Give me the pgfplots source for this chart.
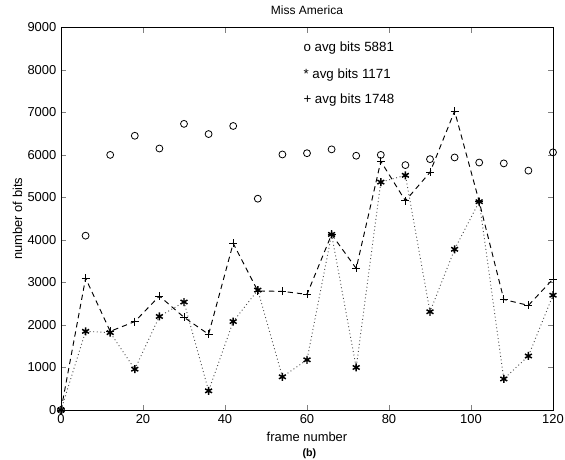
\documentclass[border=0pt]{standalone}
\usepackage{fontspec}
\setmainfont{Liberation Sans}
\usepackage{pgfplots}
\pgfplotsset{compat=1.18}
\begin{document}
\begin{tikzpicture}
\begin{axis}[
  scale only axis,
  width=369pt, height=287pt,
  at={(0,0)}, anchor=south west,
  xmin=0, xmax=120, ymin=0, ymax=9000,
  xtick={0,20,...,120},
  ytick={0,1000,...,9000},
  tick align=inside,
  major tick length=4pt,
  scaled y ticks=false,
  /pgf/number format/assume math mode=true,
  /pgf/number format/1000 sep={},
  tick label style={font=\fontsize{9.7}{11}\selectfont},
  label style={font=\fontsize{9.7}{11}\selectfont},
  xlabel={frame number},
  ylabel={number of bits},
  xlabel style={yshift=1pt},
  ylabel style={yshift=-3pt},
  title={Miss America},
  title style={font=\fontsize{9}{11}\selectfont, yshift=0pt},
  axis line style={line width=0.6pt},
  clip=false,
]
\addplot[only marks, mark=o, mark size=2.6pt, black, line width=0.6pt] coordinates {
(0,0) (6,4100) (12,6000) (18,6450) (24,6150) (30,6730) (36,6490) (42,6680)
(48,4970) (54,6010) (60,6040) (66,6130) (72,5980) (78,6000) (84,5760)
(90,5900) (96,5940) (102,5820) (108,5800) (114,5630) (120,6060)};
\addplot[black!70, dotted, line width=0.7pt, mark=asterisk, mark size=3pt,
  mark options={solid, black, line width=1.1pt}] coordinates {
(0,0) (6,1850) (12,1820) (18,960) (24,2200) (30,2540) (36,450) (42,2080)
(48,2820) (54,780) (60,1180) (66,4130) (72,1000) (78,5360) (84,5520)
(90,2310) (96,3780) (102,4900) (108,730) (114,1270) (120,2700)};
\addplot[black, dashed, line width=0.7pt, dash pattern=on 4pt off 3pt, mark=+, mark size=3pt,
  mark options={solid, line width=0.6pt}] coordinates {
(0,0) (6,3100) (12,1850) (18,2080) (24,2680) (30,2180) (36,1780) (42,3920)
(48,2800) (54,2790) (60,2720) (66,4130) (72,3330) (78,5850) (84,4920)
(90,5590) (96,7030) (102,4900) (108,2600) (114,2460) (120,3080)};
\node[anchor=west, font=\fontsize{10}{12}\selectfont] at (axis cs:58,8520) {o avg bits 5881};
\node[anchor=west, font=\fontsize{10}{12}\selectfont] at (axis cs:58,7880) {* avg bits 1171};
\node[anchor=west, font=\fontsize{10}{12}\selectfont] at (axis cs:58,7290) {+ avg bits 1748};
\node[anchor=south, inner sep=0.3pt, font=\fontsize{8}{9}\bfseries\selectfont] at ([yshift=-37.3pt]rel axis cs:0.505,0) {(b)};
\end{axis}
\pgfresetboundingbox
\useasboundingbox (-45.75pt,-37.5pt) rectangle (378pt,307.5pt);
\end{tikzpicture}
\end{document}
